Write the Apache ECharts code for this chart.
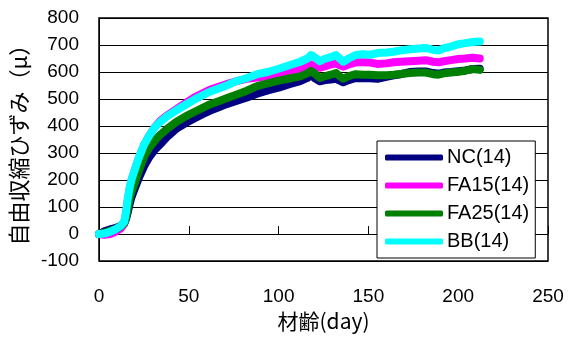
<!DOCTYPE html>
<html>
<head>
<meta charset="utf-8">
<script src="https://cdn.jsdelivr.net/npm/echarts@6/dist/echarts.min.js"></script>
<style>
  html, body { margin: 0; padding: 0; background: #fff; }
  #chart { width: 570px; height: 337px; }
</style>
</head>
<body>
<div id="chart"></div>
<script>
// material age (day) at each reading
const days = [0, 3, 6, 9, 12, 14, 15, 16, 17, 18, 20, 22, 25, 28, 31, 34, 38, 43, 48, 53,
  58, 62, 67, 71, 76, 82, 88, 94, 100, 106, 112, 116, 118, 120, 123, 126, 129, 132, 134, 136,
  139, 143, 147, 151, 155, 160, 164, 168, 173, 178, 182, 186, 189, 192, 196, 200, 204, 208, 212];

const nc = [0, 10, 17, 22, 30, 40, 55, 80, 110, 135, 170, 205, 250, 285, 312, 332, 360, 390, 410, 428,
  445, 457, 470, 481, 492, 505, 520, 532, 542, 555, 566, 578, 590, 578, 566, 570, 572, 575, 568, 562,
  570, 578, 577, 577, 575, 582, 588, 592, 600, 602, 602, 596, 594, 598, 600, 603, 606, 611, 612];

const fa15 = [0, -3, 0, 8, 20, 38, 75, 125, 165, 195, 238, 278, 328, 365, 395, 418, 440, 462, 484, 505,
  522, 535, 546, 555, 565, 575, 580, 585, 590, 600, 608, 618, 628, 622, 616, 622, 628, 632, 625, 620,
  628, 636, 636, 635, 630, 632, 636, 638, 640, 642, 644, 638, 636, 640, 644, 648, 650, 653, 650];

const fa25 = [0, 5, 12, 18, 28, 40, 60, 95, 130, 155, 190, 230, 285, 320, 345, 367, 390, 415, 435, 452,
  468, 481, 493, 503, 515, 530, 548, 558, 568, 576, 584, 595, 604, 595, 578, 585, 590, 596, 585, 575,
  585, 592, 590, 590, 588, 588, 590, 593, 596, 598, 598, 592, 590, 595, 598, 601, 605, 611, 608];

const bb = [0, 2, 8, 17, 30, 45, 80, 130, 170, 200, 240, 280, 330, 365, 395, 415, 437, 458, 478, 498,
  515, 528, 540, 550, 565, 577, 592, 600, 612, 625, 638, 650, 663, 655, 640, 650, 655, 663, 650, 638,
  650, 663, 666, 664, 670, 672, 675, 680, 684, 687, 689, 682, 680, 688, 694, 703, 707, 711, 713];

const seriesNames = ["NC(14)", "FA15(14)", "FA25(14)", "BB(14)"];
const seriesValues = [nc, fa15, fa25, bb];
const seriesColors = ["#000080", "#ff00ff", "#008000", "#00ffff"];

const labelFont = "'Liberation Sans', Arial, sans-serif";
const cjkFont = "'Noto Sans CJK JP', sans-serif";

const chart = echarts.init(document.getElementById("chart"), null, { renderer: "canvas" });

chart.setOption({
  animation: false,
  color: seriesColors,
  grid: {
    left: 99, right: 22, top: 18, bottom: 70,
    show: true, borderColor: "#000", borderWidth: 1.5, backgroundColor: "#fff"
  },
  legend: {
    orient: "vertical",
    left: 377, top: 141,
    padding: [6, 6, 6, 8],
    itemWidth: 58, itemHeight: 6, itemGap: 7,
    icon: "roundRect",
    backgroundColor: "#fff",
    borderColor: "#000", borderWidth: 1,
    textStyle: { fontFamily: labelFont, fontSize: 20, color: "#000", lineHeight: 21, padding: [0, 0, 0, -1] },
    data: seriesNames
  },
  xAxis: [
    {
      // axis line through zero, with inward ticks
      type: "value", min: 0, max: 250, interval: 50,
      axisLine: { onZero: true, lineStyle: { color: "#000", width: 1 } },
      axisTick: { show: true, inside: true, length: 8, lineStyle: { color: "#000" } },
      axisLabel: { show: false },
      splitLine: { show: false }
    },
    {
      // tick labels and name at the bottom of the plot
      type: "value", min: 0, max: 250, interval: 50, position: "bottom",
      axisLine: { show: false, onZero: false },
      axisTick: { show: false },
      splitLine: { show: false },
      axisLabel: { fontFamily: labelFont, fontSize: 19, color: "#000", margin: 26 },
      name: "材齢(day)",
      nameLocation: "middle",
      nameGap: 33,
      nameTextStyle: { fontFamily: cjkFont, fontSize: 21, color: "#000" }
    }
  ],
  yAxis: {
    type: "value", min: -100, max: 800, interval: 100,
    axisLine: { show: true, onZero: false, lineStyle: { color: "#000" } },
    axisTick: { show: false },
    axisLabel: { fontFamily: labelFont, fontSize: 19, color: "#000", margin: 20 },
    splitLine: { show: true, lineStyle: { color: "#000", width: 1 } },
    name: "自由収縮ひずみ（μ）",
    nameLocation: "middle",
    nameGap: 67,
    nameTextStyle: { fontFamily: cjkFont, fontSize: 22, color: "#000" }
  },
  series: seriesNames.map((name, i) => ({
    name,
    type: "line",
    xAxisIndex: 0,
    showSymbol: false,
    symbol: "none",
    smooth: false,
    lineStyle: { width: 8, color: seriesColors[i], cap: "round", join: "round" },
    data: days.map((d, j) => [d, seriesValues[i][j]])
  }))
});
</script>
</body>
</html>
